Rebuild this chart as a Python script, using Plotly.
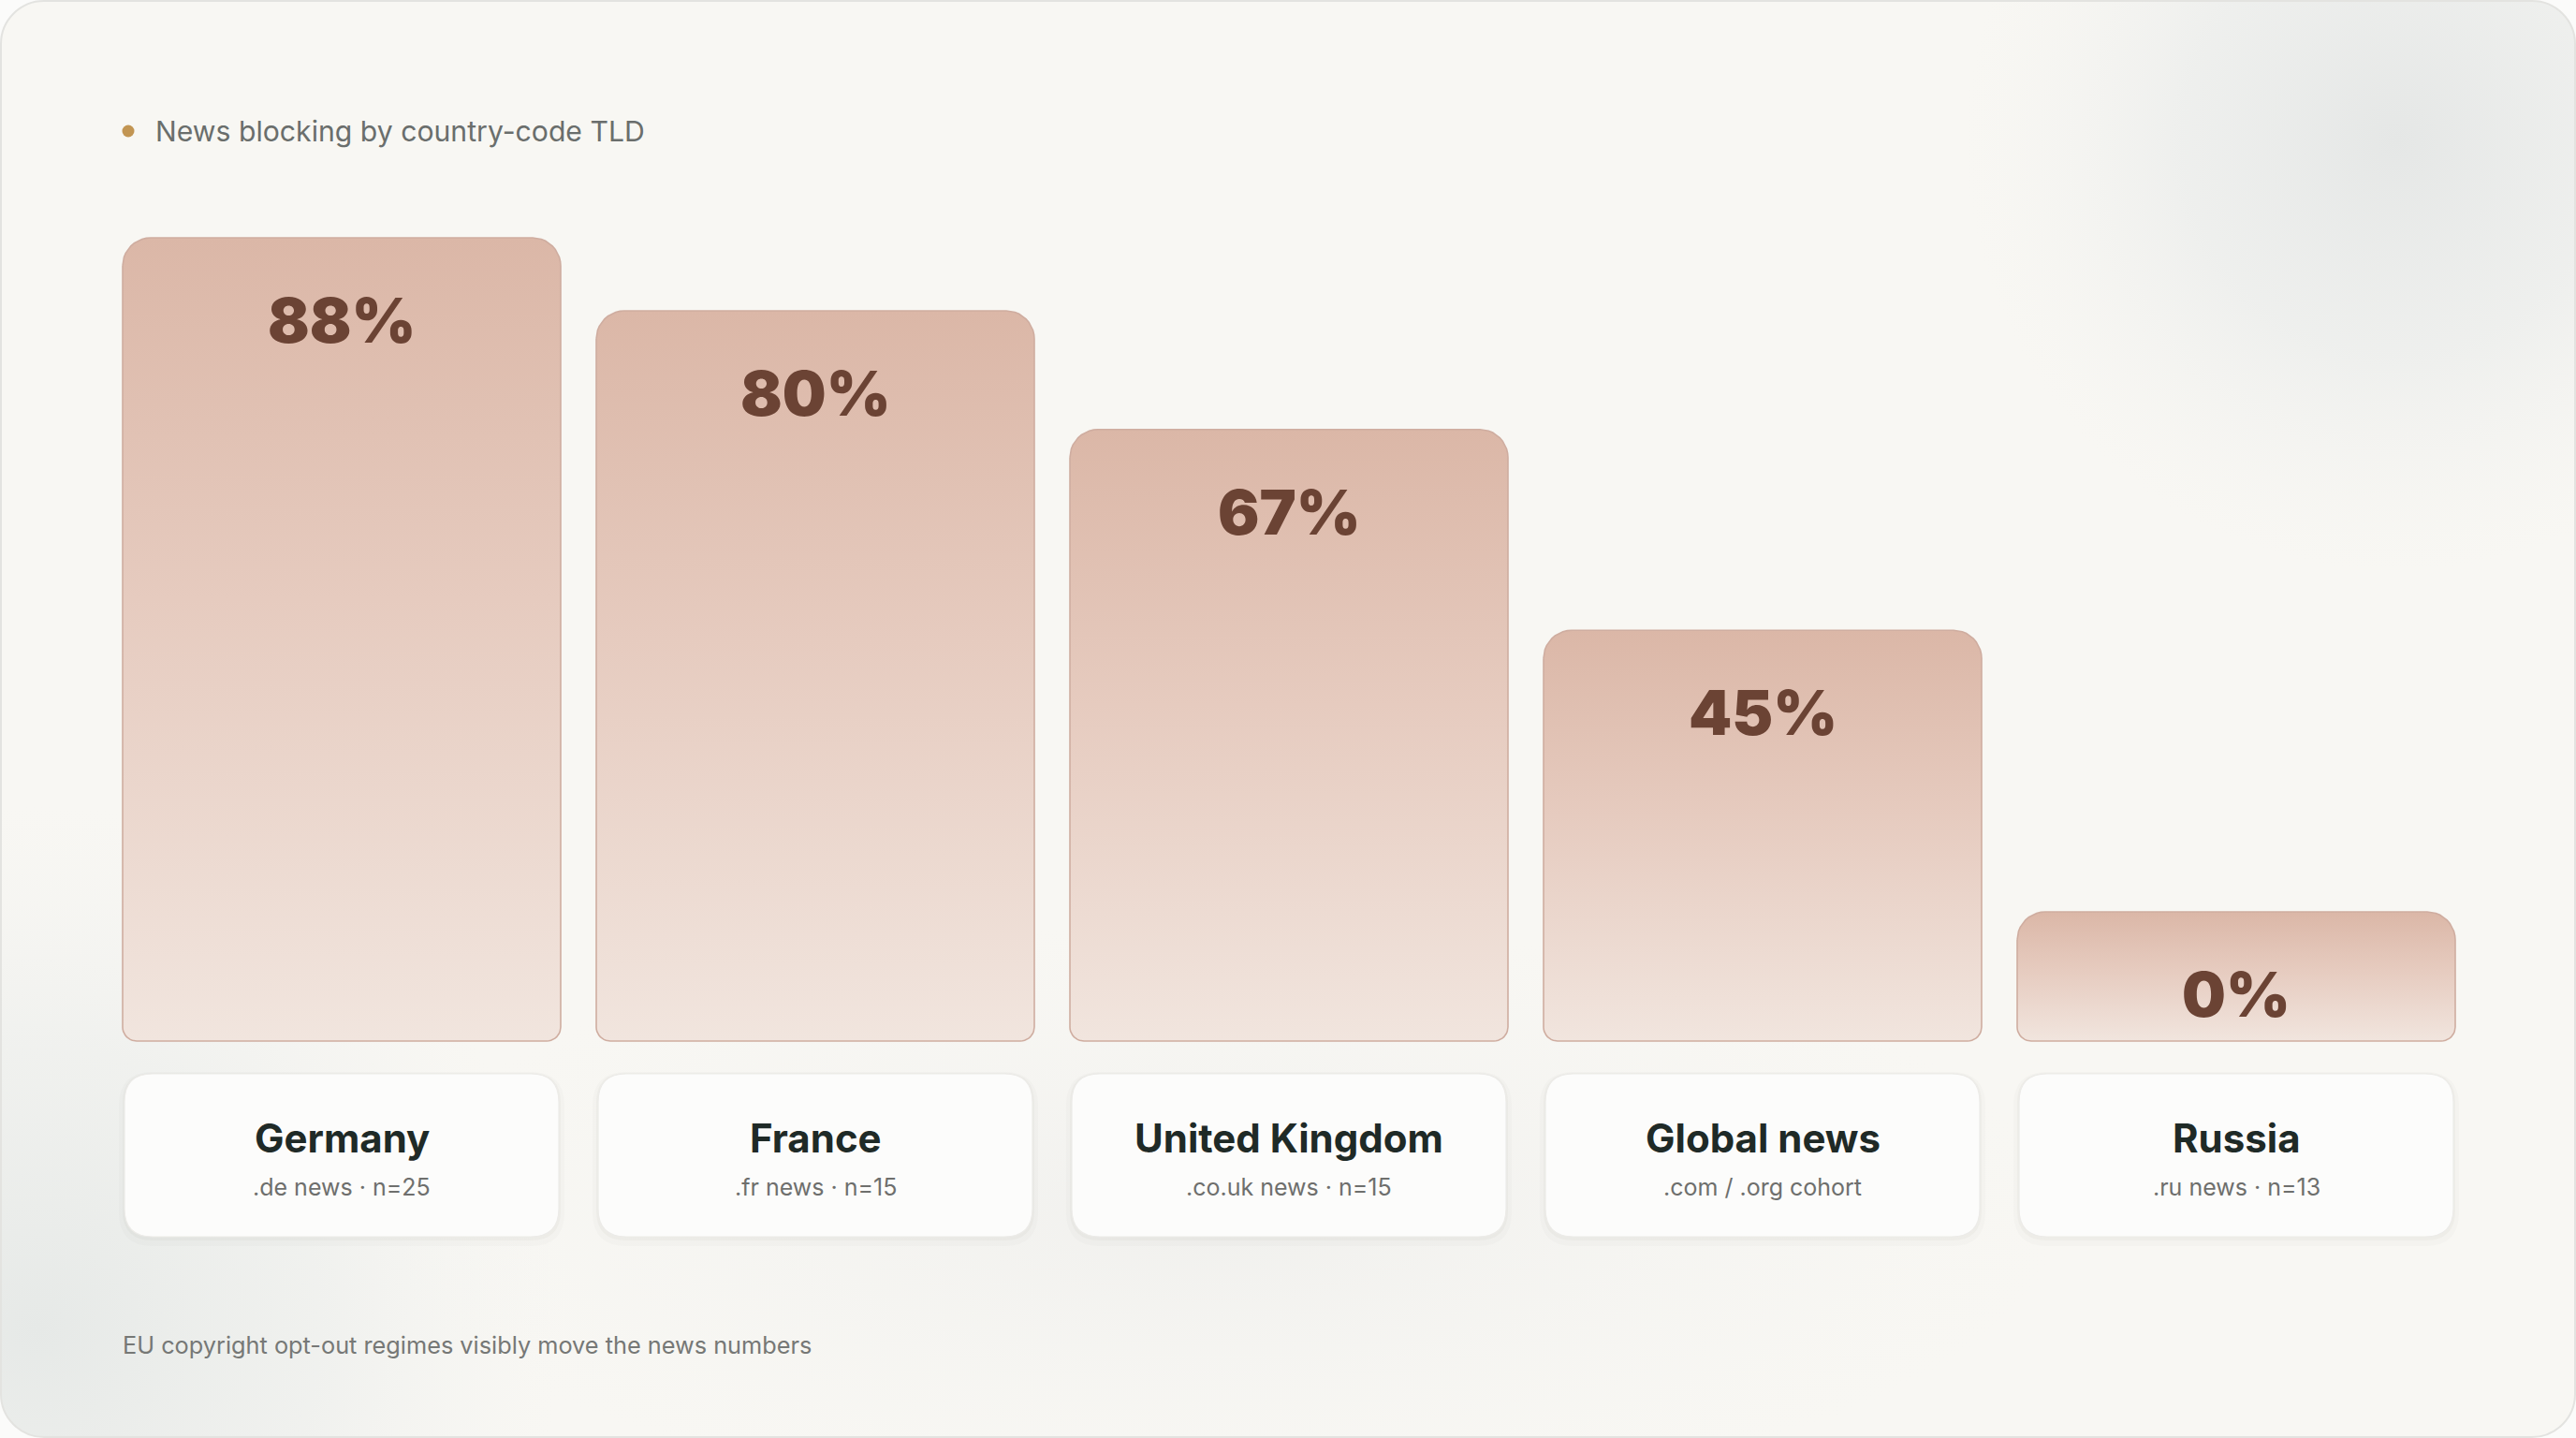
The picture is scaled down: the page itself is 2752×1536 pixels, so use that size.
import base64
import math
import plotly.graph_objects as go

# ---------------- data ----------------
categories = ["Germany", "France", "United Kingdom", "Global news", "Russia"]
subtitles = [".de news · n=25", ".fr news · n=15", ".co.uk news · n=15",
             ".com / .org cohort", ".ru news · n=13"]
blocked_pct = [88, 80, 67, 45, 0]
value_labels = [f"{v}%" for v in blocked_pct]

title_text = "News blocking by country-code TLD"
footer_text = "EU copyright opt-out regimes visibly move the news numbers"

# ---------------- layout constants ----------------
W, H = 2752, 1536
PPX = 506.0          # pixels per category step
PPY = 9.75           # pixels per percentage point
X0_PX = 365.0        # pixel centre of first category
Y0_PX = 1112.0       # pixel position of 0 %
MIN_BAR_PX = 138.0   # minimum visual bar height (so 0 % still shows a tile)

x_range = [-X0_PX / PPX, (W - X0_PX) / PPX]
y_range = [-(H - Y0_PX) / PPY, Y0_PX / PPY]

FONT = "Inter, 'Noto Sans', 'Liberation Sans', sans-serif"


def dx(px):
    return px / PPX


def dy(px):
    return px / PPY


def bar_outline(xc, h, half_px, rt_px, rb_px, n=10):
    xl, xr = xc - dx(half_px), xc + dx(half_px)
    yb, yt = 0.0, h
    rtx, rty = dx(rt_px), dy(rt_px)
    rbx, rby = dx(rb_px), dy(rb_px)
    xs, ys = [], []

    def arc(cx, cy, rx, ry, a0, a1):
        for k in range(n + 1):
            a = math.radians(a0 + (a1 - a0) * k / n)
            xs.append(cx + rx * math.cos(a))
            ys.append(cy + ry * math.sin(a))

    arc(xl + rtx, yt - rty, rtx, rty, 180, 90)      # top-left
    arc(xr - rtx, yt - rty, rtx, rty, 90, 0)        # top-right
    arc(xr - rbx, yb + rby, rbx, rby, 0, -90)       # bottom-right
    arc(xl + rbx, yb + rby, rbx, rby, 270, 180)     # bottom-left
    xs.append(xs[0])
    ys.append(ys[0])
    return xs, ys


def rounded_path(xl, xr, yb, yt, r_px):
    rx, ry = dx(r_px), dy(r_px)
    return (f"M {xl+rx},{yt} L {xr-rx},{yt} Q {xr},{yt} {xr},{yt-ry} "
            f"L {xr},{yb+ry} Q {xr},{yb} {xr-rx},{yb} L {xl+rx},{yb} "
            f"Q {xl},{yb} {xl},{yb+ry} L {xl},{yt-ry} Q {xl},{yt} {xl+rx},{yt} Z")


fig = go.Figure()

# ---------------- bars (gradient tiles) ----------------
display_h = [max(v, MIN_BAR_PX / PPY) for v in blocked_pct]
for i, (cat, h) in enumerate(zip(categories, display_h)):
    xs, ys = bar_outline(i, h, 234, 30, 15)
    fig.add_trace(go.Scatter(
        x=xs, y=ys, mode="lines", fill="toself",
        line=dict(color="#cfada0", width=1.6),
        fillgradient=dict(type="vertical",
                          colorscale=[[0, "#f1e5de"], [0.55, "#e6cbbf"], [1, "#dbb7a7"]]),
        hoverinfo="skip", showlegend=False, name=cat,
    ))

# ---------------- label cards ----------------
shapes = []
for i in range(len(categories)):
    xl, xr = i - dx(232), i + dx(232)
    yt, yb = -dy(35), -dy(209)
    # soft shadows
    shapes.append(dict(type="path", path=rounded_path(xl - dx(6), xr + dx(6), yb - dy(10), yt + dy(2), 36),
                       fillcolor="rgba(90,80,70,0.025)", line=dict(width=0), layer="below"))
    shapes.append(dict(type="path", path=rounded_path(xl - dx(2), xr + dx(2), yb - dy(4), yt + dy(1), 32),
                       fillcolor="rgba(90,80,70,0.035)", line=dict(width=0), layer="below"))
    shapes.append(dict(type="path", path=rounded_path(xl, xr, yb, yt, 30),
                       fillcolor="#fcfcfb", line=dict(color="#ecebe8", width=1.2), layer="below"))

# title dot
shapes.append(dict(type="circle", xref="paper", yref="paper",
                   x0=(137 - 6.5) / W, x1=(137 + 6.5) / W,
                   y0=1 - (140 + 6.5) / H, y1=1 - (140 - 6.5) / H,
                   fillcolor="#c29552", line=dict(width=0)))

# ---------------- annotations ----------------
ann = []
for i, (h, lab) in enumerate(zip(display_h, value_labels)):
    ann.append(dict(x=i, y=h, xref="x", yref="y", text=lab, showarrow=False,
                    yshift=-88, yanchor="middle", xanchor="center",
                    font=dict(family=FONT, size=66, color="#6b4334", weight=900)))
for i, (cat, sub) in enumerate(zip(categories, subtitles)):
    ann.append(dict(x=i, y=0, xref="x", yref="y", text=cat, showarrow=False,
                    yshift=-103, yanchor="middle", xanchor="center",
                    font=dict(family=FONT, size=42, color="#1f2a27", weight=700)))
    ann.append(dict(x=i, y=0, xref="x", yref="y", text=sub, showarrow=False,
                    yshift=-156, yanchor="middle", xanchor="center",
                    font=dict(family=FONT, size=25, color="#6e6f6d")))

ann.append(dict(x=164 / W, y=1 - 140 / H, xref="paper", yref="paper", text=title_text,
                showarrow=False, xanchor="left", yanchor="middle",
                font=dict(family=FONT, size=30.2, color="#6a6e6c")))
ann.append(dict(x=129 / W, y=1 - 1436 / H, xref="paper", yref="paper", text=footer_text,
                showarrow=False, xanchor="left", yanchor="middle",
                font=dict(family=FONT, size=25.3, color="#767876")))

# ---------------- background card (decorative) ----------------
svg = f"""<svg xmlns='http://www.w3.org/2000/svg' width='{W}' height='{H}' viewBox='0 0 {W} {H}'>
<defs>
<radialGradient id='tr' cx='2560' cy='150' r='460' gradientUnits='userSpaceOnUse'>
<stop offset='0' stop-color='#e5e7e6' stop-opacity='1'/>
<stop offset='0.5' stop-color='#eaeceb' stop-opacity='0.7'/>
<stop offset='1' stop-color='#f2f2f0' stop-opacity='0'/></radialGradient>
<radialGradient id='bl' cx='40' cy='1420' r='560' gradientUnits='userSpaceOnUse'>
<stop offset='0' stop-color='#e6e9e7' stop-opacity='1'/>
<stop offset='0.55' stop-color='#eceeec' stop-opacity='0.65'/>
<stop offset='1' stop-color='#f3f3f1' stop-opacity='0'/></radialGradient>
<radialGradient id='bc' cx='1300' cy='1300' r='900' gradientUnits='userSpaceOnUse' gradientTransform='translate(0 1300) scale(1 0.35) translate(0 -1300)'>
<stop offset='0' stop-color='#ededeb' stop-opacity='0.7'/>
<stop offset='1' stop-color='#f3f3f1' stop-opacity='0'/></radialGradient>
<clipPath id='c'><rect x='1' y='1' width='{W-2}' height='{H-2}' rx='46'/></clipPath>
</defs>
<rect x='1' y='1' width='{W-2}' height='{H-2}' rx='46' fill='#f8f7f3'/>
<g clip-path='url(#c)'>
<rect width='{W}' height='{H}' fill='url(#bc)'/>
<rect width='{W}' height='{H}' fill='url(#tr)'/>
<rect width='{W}' height='{H}' fill='url(#bl)'/>
</g>
<rect x='1' y='1' width='{W-2}' height='{H-2}' rx='46' fill='none' stroke='#e3e3e0' stroke-width='2'/>
</svg>"""
src = "data:image/svg+xml;base64," + base64.b64encode(svg.encode()).decode()

fig.update_layout(
    width=W, height=H,
    margin=dict(l=0, r=0, t=0, b=0),
    paper_bgcolor="#fbfbfa", plot_bgcolor="rgba(0,0,0,0)",
    xaxis=dict(range=x_range, visible=False, fixedrange=True),
    yaxis=dict(range=y_range, visible=False, fixedrange=True),
    shapes=shapes, annotations=ann, showlegend=False,
    images=[dict(source=src, xref="paper", yref="paper", x=0, y=1, sizex=1, sizey=1,
                 xanchor="left", yanchor="top", sizing="stretch", layer="below")],
)

fig.write_html(
    "out.html",
    config={"displayModeBar": False},
    post_script="document.body.style.margin='0';document.body.style.overflow='hidden';",
)
